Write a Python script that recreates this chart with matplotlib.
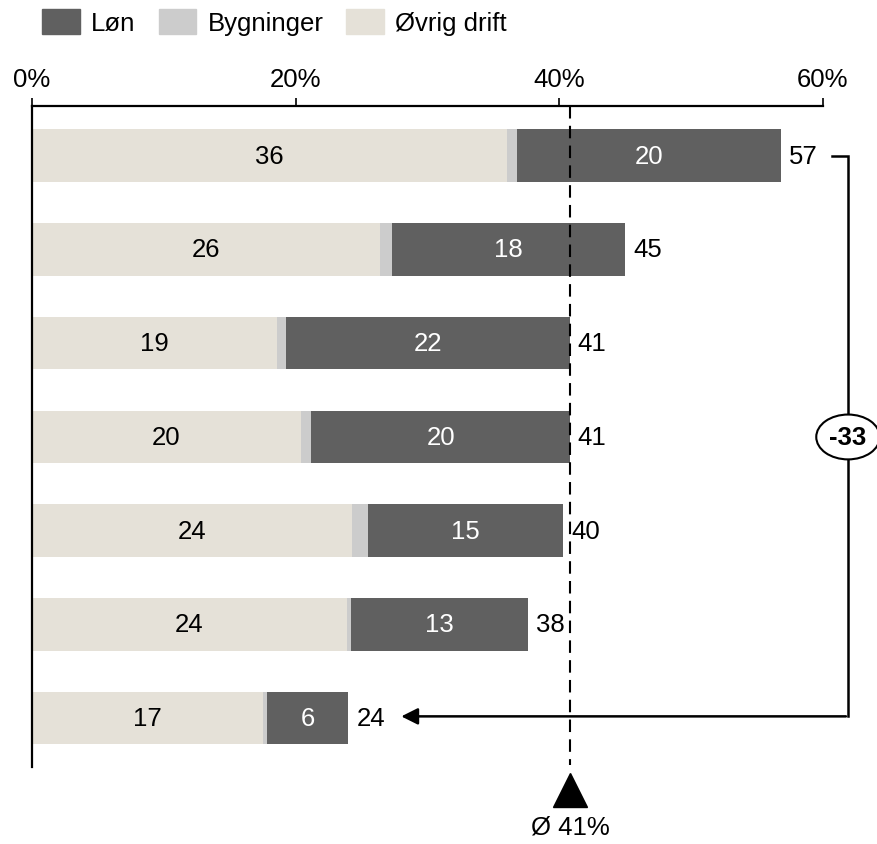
import matplotlib.pyplot as plt
from matplotlib.patches import Patch
import numpy as np

plt.rcParams['font.family'] = ['Liberation Sans', 'DejaVu Sans']

# values in percent, rows top to bottom
ovrig = [36.0, 26.4, 18.6, 20.4, 24.3, 23.9, 17.5]
bygninger = [0.8, 0.9, 0.7, 0.8, 1.2, 0.3, 0.3]
lon = [20.0, 17.7, 21.5, 19.6, 14.8, 13.4, 6.2]
total_labels = ['57', '45', '41', '41', '40', '38', '24']
ovrig_labels = ['36', '26', '19', '20', '24', '24', '17']
lon_labels = ['20', '18', '22', '20', '15', '13', '6']
avg = 40.8
diff_label = '-33'

c_lon = '#606060'
c_byg = '#cccccc'
c_ovr = '#e5e1d8'
fs = 18.5

fig = plt.figure(figsize=(8.78, 8.45), dpi=100)
ax = fig.add_axes([32/878, 1-768/845, (823-32)/878, (768-107)/845])

y = np.arange(len(ovrig))
ovrig = np.array(ovrig)
bygninger = np.array(bygninger)
lon = np.array(lon)
h = 0.56
ax.barh(y, ovrig, height=h, color=c_ovr)
ax.barh(y, bygninger, left=ovrig, height=h, color=c_byg)
ax.barh(y, lon, left=ovrig + bygninger, height=h, color=c_lon)

tot = ovrig + bygninger + lon
for i in range(len(y)):
    ax.text(ovrig[i] / 2, y[i], ovrig_labels[i], ha='center', va='center', fontsize=fs)
    ax.text(ovrig[i] + bygninger[i] + lon[i] / 2, y[i], lon_labels[i], ha='center', va='center',
            fontsize=fs, color='white')
    ax.text(tot[i] + 0.6, y[i], total_labels[i], ha='left', va='center', fontsize=fs)

ax.set_xlim(0, 60)
ax.set_ylim(6.52, -0.53)
ax.xaxis.tick_top()
ax.set_xticks([0, 20, 40, 60])
ax.set_xticklabels(['0%', '20%', '40%', '60%'], fontsize=fs)
ax.tick_params(axis='x', direction='out', length=6, width=1.2, pad=5)
ax.set_yticks([])
for s in ['right', 'bottom']:
    ax.spines[s].set_visible(False)
for s in ['top', 'left']:
    ax.spines[s].set_linewidth(1.6)

# average line
ax.plot([avg, avg], [-0.53, 6.5], ls=(0, (6, 3.5)), color='black', lw=1.5, clip_on=False)
ax.plot([avg], [6.77], marker='^', markersize=24, color='black', clip_on=False)
ax.text(avg, 7.15, 'Ø 41%', ha='center', va='center', fontsize=fs, clip_on=False)

# bracket with difference
xb = 61.9
ax.plot([60.7, xb, xb], [0, 0, 5.98], color='black', lw=1.8, clip_on=False, solid_joinstyle='miter')
ax.annotate('', xy=(27.8, 5.98), xytext=(xb + 0.05, 5.98),
            arrowprops=dict(arrowstyle='-|>', color='black', lw=1.8, mutation_scale=25),
            annotation_clip=False)
ax.text(xb, 3.0, diff_label, ha='center', va='center', fontsize=fs, fontweight='bold',
        bbox=dict(boxstyle='ellipse,pad=0.15', fc='white', ec='black', lw=1.5),
        clip_on=False)

handles = [Patch(color=c_lon), Patch(color=c_byg), Patch(color=c_ovr)]
fig.legend(handles, ['Løn', 'Bygninger', 'Øvrig drift'], loc='upper left', ncol=3,
           bbox_to_anchor=(32/878, 1), borderaxespad=0, frameon=False, fontsize=fs,
           handlelength=1.45, handleheight=1.1, handletextpad=0.45, columnspacing=0.9)

fig.savefig('out.png', dpi=100)
